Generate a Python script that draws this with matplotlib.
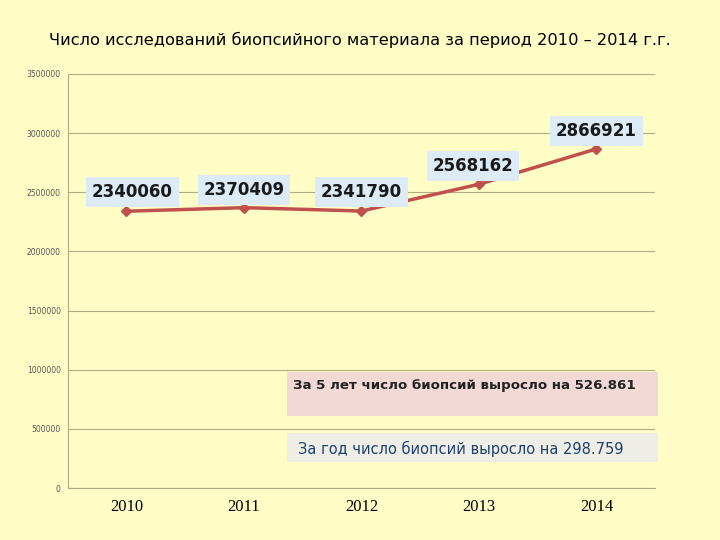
import matplotlib.pyplot as plt
from matplotlib.patches import Rectangle

years = ["2010", "2011", "2012", "2013", "2014"]
values = [2340060, 2370409, 2341790, 2568162, 2866921]
yticks = [0, 500000, 1000000, 1500000, 2000000, 2500000, 3000000, 3500000]
title = "Число исследований биопсийного материала за период 2010 – 2014 г.г."
note_5y = "За 5 лет число биопсий выросло на 526.861"
note_1y = "За год число биопсий выросло на 298.759"

bg = "#fffdc6"
fig = plt.figure(figsize=(7.2, 5.4), dpi=100, facecolor=bg)
ax = fig.add_axes([0.094, 0.096, 0.816, 0.767], facecolor=bg)

x = [i + 0.5 for i in range(len(years))]
ax.plot(x, values, color="#c0504d", lw=2.5, marker="D", ms=5, zorder=3)

# value labels, shifted up a bit above each point
label_pos = [(0.55, 2.50e6), (1.5, 2.52e6), (2.5, 2.50e6), (3.45, 2.72e6), (4.5, 3.02e6)]
for (lx, ly), v in zip(label_pos, values):
    ax.text(lx, ly, str(v), ha="center", va="center", fontsize=12, fontweight="bold",
            color="#1a1a1a", bbox=dict(boxstyle="square,pad=0.35", fc="#dcebf5", ec="none"))

ax.set_xlim(0, 5)
ax.set_ylim(0, 3500000)
ax.set_xticks(x)
ax.set_xticklabels(years, family="Liberation Serif", fontsize=12)
ax.set_yticks(yticks)
ax.set_yticklabels([str(t) for t in yticks], fontsize=5.5, color="#555555")
ax.tick_params(length=0, pad=5)
ax.tick_params(axis="x", pad=8)
ax.grid(axis="y", color="#b0ab80", lw=0.8)
ax.set_axisbelow(True)
for s in ["top", "right"]:
    ax.spines[s].set_visible(False)
ax.spines["left"].set_color("#b0ab80")
ax.spines["bottom"].set_color("#b0ab80")

# notes
fig.patches.append(Rectangle((287 / 720, 1 - 416 / 540), 371 / 720, 44 / 540,
                             transform=fig.transFigure, fc="#f2d9d6", ec="none", zorder=5))
fig.text(293 / 720, 1 - 386 / 540, note_5y, fontsize=9.6, fontweight="bold", color="#222222",
         va="center", zorder=6)
fig.patches.append(Rectangle((287 / 720, 1 - 462 / 540), 371 / 720, 29 / 540,
                             transform=fig.transFigure, fc="#eeeee6", ec="none", zorder=5))
fig.text(298 / 720, 1 - 449 / 540, note_1y, fontsize=10.5, color="#1f3f6e", va="center", zorder=6)

fig.text(0.5, 1 - 40 / 540, title, ha="center", va="center", fontsize=11.7)
fig.savefig("out.png", dpi=100, facecolor=bg)
